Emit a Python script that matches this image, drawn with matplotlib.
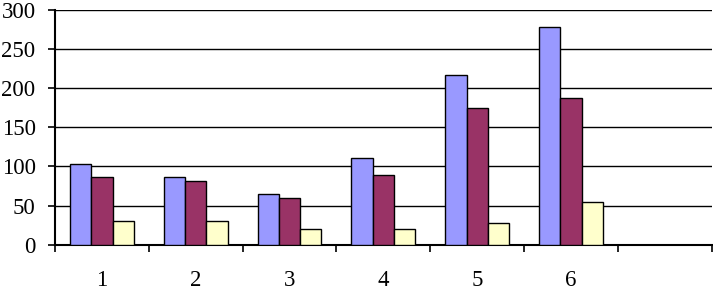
import matplotlib.pyplot as plt
import numpy as np

# values
categories = ["1", "2", "3", "4", "5", "6"]
series_a = [103, 86, 65, 111, 217, 278]
series_b = [87, 81, 60, 89, 175, 187]
series_c = [30, 30, 20, 20, 28, 54]
n_slots = 7  # Excel left an empty 7th slot at the right

plt.rcParams['font.family'] = ['Liberation Serif', 'DejaVu Serif']

fig = plt.figure(figsize=(7.13, 2.90), dpi=100)
ax = fig.add_axes([55 / 713, 1 - 244.7 / 290, (711.7 - 55) / 713, (244.7 - 10) / 290])

x = np.arange(1, len(categories) + 1)
w = 0.227
ax.bar(x - w, series_a, width=w, color='#9999FF', edgecolor='black', linewidth=1.0, zorder=3)
ax.bar(x, series_b, width=w, color='#993366', edgecolor='black', linewidth=1.0, zorder=3)
ax.bar(x + w, series_c, width=w, color='#FFFFCC', edgecolor='black', linewidth=1.0, zorder=3)

ax.set_xlim(0.5, n_slots + 0.5)
ax.set_ylim(0, 300)
ax.set_yticks(np.arange(0, 301, 50))
ax.yaxis.grid(True, color='black', linewidth=1.0, zorder=0)
ax.set_axisbelow(True)

# ticks between categories, labels at centres
ax.set_xticks(np.arange(0.5, n_slots + 1, 1.0))
ax.set_xticklabels([])
ax.set_xticks(x, categories, minor=True)
ax.tick_params(axis='x', which='major', length=5, width=1.2, direction='out')
ax.tick_params(axis='x', which='minor', length=0, pad=18.5, labelsize=16.5)
ax.tick_params(axis='y', length=5, width=1.2, direction='out', pad=9, labelsize=16.5)

for s in ['top', 'right']:
    ax.spines[s].set_visible(False)
for s in ['left', 'bottom']:
    ax.spines[s].set_linewidth(1.5)

fig.savefig("out.png", dpi=100)
